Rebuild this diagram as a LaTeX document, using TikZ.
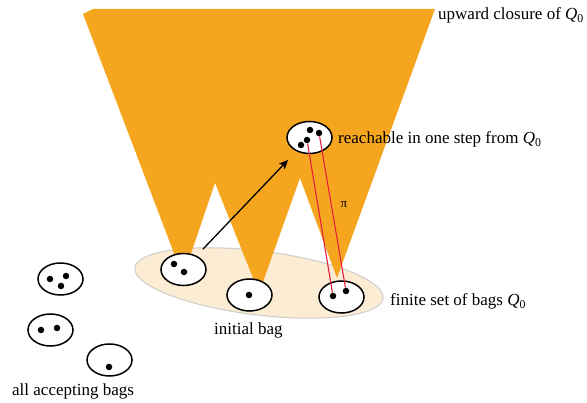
\documentclass[tikz,border=0pt]{standalone}
\usepackage{fontspec}
\setmainfont{Liberation Serif}
\usetikzlibrary{shapes.geometric,arrows.meta}
\definecolor{conefill}{RGB}{246,166,30}
\definecolor{bagset}{RGB}{252,236,212}
\definecolor{bagsetline}{RGB}{205,205,200}
\definecolor{pired}{RGB}{232,30,64}
\newcommand{\Qz}{\textit{Q}\textsubscript{0}}
\begin{document}
\begin{tikzpicture}[x=1pt,y=-1pt,
  bag/.style={ellipse,draw=black,fill=white,line width=1.5pt,minimum width=45pt,minimum height=32pt,inner sep=0pt},
  tok/.style={circle,fill=black,inner sep=0pt,minimum size=6.5pt},
  lbl/.style={font=\fontsize{17}{19}\selectfont,anchor=base west,inner sep=0pt},
  trace/.style={draw=pired,line width=1.1pt},
  stepar/.style={-{Stealth[length=9pt,width=8pt,inset=2pt]},line width=1.3pt,shorten <=9pt,shorten >=12pt}
]
\useasboundingbox (0,0) rectangle (587,403);
% finite set Q0
\node[ellipse,fill=bagset,draw=bagsetline,line width=1pt,minimum width=250pt,minimum height=64pt,rotate=-7] (q0set) at (259,283) {};
% upward closure cones
\fill[conefill] (93,9) -- (435,9) -- (337,278) -- (300,178) -- (259,293) -- (215,183) -- (183,277) -- (83,14) -- cycle;
% bags of Q0
\node[bag] (b1) at (183.5,269.5) {};
\node[tok] (b1d1) at (174,264) {};
\node[tok] (b1d2) at (184,272) {};
\node[bag] (b2) at (249.5,295) {};
\node[tok] (b2d1) at (249,295) {};
\node[bag] (b3) at (341.5,297) {};
\node[tok] (b3d1) at (333,296) {};
\node[tok] (b3d2) at (346,291) {};
% reachable bag
\node[bag] (tb) at (309.5,137.5) {};
\node[tok] (tbd1) at (301,145) {};
\node[tok] (tbd2) at (307,140) {};
\node[tok] (tbd3) at (310,130) {};
\node[tok] (tbd4) at (319,133) {};
% accepting bags
\node[bag] (a1) at (60.5,279) {};
\node[tok] (a1d1) at (50,279) {};
\node[tok] (a1d2) at (66,276) {};
\node[tok] (a1d3) at (61,286) {};
\node[bag] (a2) at (50.5,330) {};
\node[tok] (a2d1) at (41,330) {};
\node[tok] (a2d2) at (57,328) {};
\node[bag] (a3) at (109.5,360) {};
\node[tok] (a3d1) at (109,367) {};
% connectors
\draw[stepar] (b1) -- (tb);
\draw[trace] (tbd2) -- (b3d1);
\draw[trace] (tbd4) -- (b3d2);
% labels
\node[font=\fontsize{13}{15}\selectfont,inner sep=0pt] (pilbl) at (344,205) {π};
\node[lbl] (upcl) at (438,20) {upward closure of \Qz};
\node[lbl] (reach) at (338,144) {reachable in one step from \Qz};
\node[lbl] (finset) at (390,306) {finite set of bags \Qz};
\node[lbl] (initb) at (214,335) {initial bag};
\node[lbl] (accb) at (12,396) {all accepting bags};
\end{tikzpicture}
\end{document}
